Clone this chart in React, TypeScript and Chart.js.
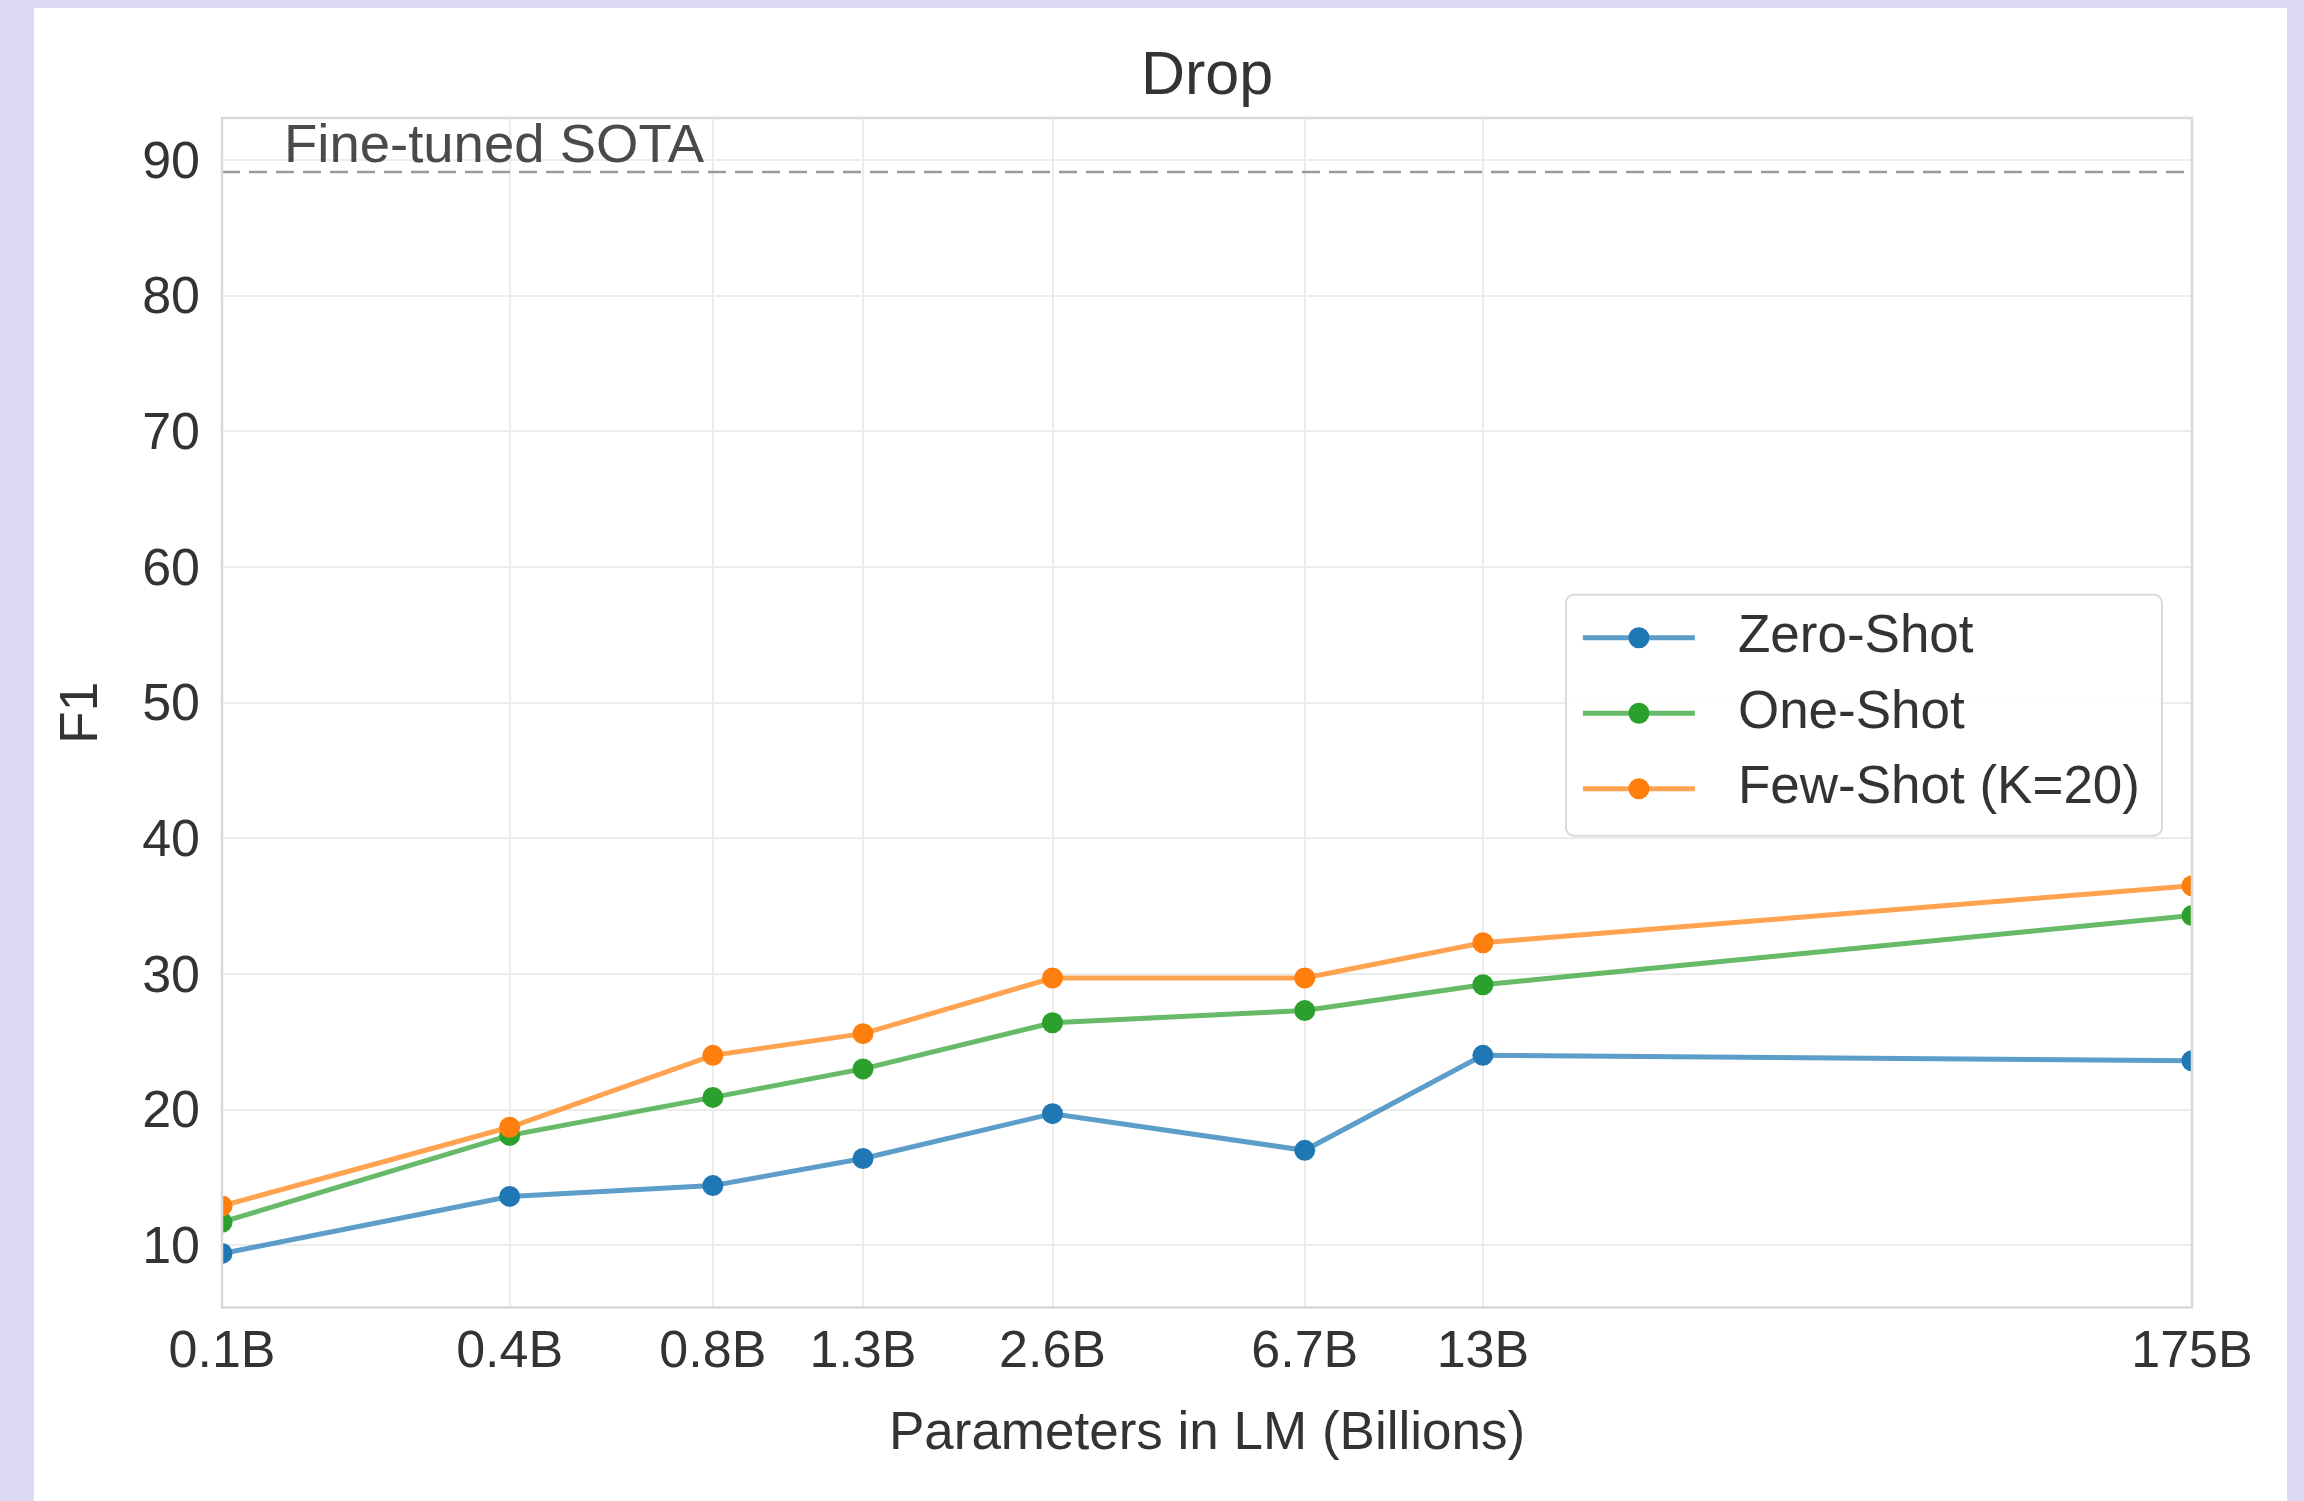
import React, { useEffect, useRef } from 'react';
import { Chart, registerables } from 'chart.js';

Chart.register(...registerables);

// ---------- data ----------
const TITLE = 'Drop';
const X_TITLE = 'Parameters in LM (Billions)';
const Y_TITLE = 'F1';
const MODEL_SIZES = [0.125, 0.36, 0.76, 1.32, 2.65, 6.7, 12.9, 175];
const X_TICK_LABELS = ['0.1B', '0.4B', '0.8B', '1.3B', '2.6B', '6.7B', '13B', '175B'];
const Y_TICKS = [10, 20, 30, 40, 50, 60, 70, 80, 90];
const ZERO_SHOT = [9.4, 13.6, 14.4, 16.4, 19.7, 17.0, 24.0, 23.6];
const ONE_SHOT = [11.7, 18.1, 20.9, 23.0, 26.4, 27.3, 29.2, 34.3];
const FEW_SHOT = [12.9, 18.7, 24.0, 25.6, 29.7, 29.7, 32.3, 36.5];
const SERIES_NAMES = ['Zero-Shot', 'One-Shot', 'Few-Shot (K=20)'];
const SOTA = 89.1;
const SOTA_LABEL = 'Fine-tuned SOTA';
const SOTA_LABEL_X = 0.157;
const Y_MIN = 5.415;
const Y_MAX = 93.085;

// ---------- style ----------
const FONT = "'Liberation Sans', Arial, Helvetica, sans-serif";
const TEXT = '#333333';
const BG = '#dcdaf2';
const GRID = '#ececec';
const FRAME = '#d9d9d9';
const COLORS = ['#1f77b4', '#2ca02c', '#ff7f0e'];
const LINE_COLORS = ['rgba(31,119,180,0.72)', 'rgba(44,160,44,0.72)', 'rgba(255,127,14,0.72)'];
const W = 2253;
const H = 1493;

const pts = (ys: number[]) => MODEL_SIZES.map((x, i) => ({ x, y: ys[i] }));

const decorPlugin = {
  id: 'decor',
  afterDatasetsDraw(chart: any) {
    const { ctx, chartArea: a, scales } = chart;
    ctx.save();
    // frame
    ctx.strokeStyle = FRAME;
    ctx.lineWidth = 2.5;
    ctx.strokeRect(a.left, a.top, a.right - a.left, a.bottom - a.top);

    // SOTA label
    ctx.fillStyle = '#4a4a4a';
    ctx.font = `54.5px ${FONT}`;
    ctx.textAlign = 'left';
    ctx.textBaseline = 'alphabetic';
    ctx.fillText(SOTA_LABEL, scales.x.getPixelForValue(SOTA_LABEL_X), scales.y.getPixelForValue(SOTA) - 10);

    // legend (center right)
    ctx.font = `53px ${FONT}`;
    let maxW = 0;
    SERIES_NAMES.forEach((n) => { maxW = Math.max(maxW, ctx.measureText(n).width); });
    const boxW = 172 + maxW + 22;
    const boxH = 241;
    const boxRight = a.right - 30;
    const boxLeft = boxRight - boxW;
    const midY = (a.top + a.bottom) / 2;
    const boxTop = midY - 118;
    ctx.beginPath();
    if (ctx.roundRect) ctx.roundRect(boxLeft, boxTop, boxW, boxH, 8);
    else ctx.rect(boxLeft, boxTop, boxW, boxH);
    ctx.fillStyle = 'rgba(255,255,255,0.9)';
    ctx.fill();
    ctx.strokeStyle = '#d9d9d9';
    ctx.lineWidth = 2;
    ctx.stroke();

    const rows = [43, 118.5, 194];
    chart.data.datasets.slice(0, 3).forEach((ds: any, i: number) => {
      const y = boxTop + rows[i];
      ctx.strokeStyle = ds.borderColor;
      ctx.lineWidth = 5;
      ctx.beginPath();
      ctx.moveTo(boxLeft + 17, y);
      ctx.lineTo(boxLeft + 129, y);
      ctx.stroke();
      ctx.fillStyle = ds.pointBackgroundColor;
      ctx.beginPath();
      ctx.arc(boxLeft + 73, y, 10.5, 0, Math.PI * 2);
      ctx.fill();
      ctx.fillStyle = TEXT;
      ctx.textBaseline = 'middle';
      ctx.textAlign = 'left';
      ctx.fillText(ds.label, boxLeft + 172, y);
    });
    ctx.restore();
  },
};

export default function App() {
  const ref = useRef<HTMLCanvasElement>(null);
  useEffect(() => {
    const series = [ZERO_SHOT, ONE_SHOT, FEW_SHOT];
    const datasets: any[] = series.map((s, i) => ({
      label: SERIES_NAMES[i],
      data: pts(s),
      borderColor: LINE_COLORS[i],
      backgroundColor: COLORS[i],
      pointBackgroundColor: COLORS[i],
      pointBorderWidth: 0,
      pointRadius: 10.5,
      borderWidth: 5,
      tension: 0,
      clip: 0,
      order: 3 - i,
    }));
    datasets.push({
      label: 'SOTA',
      data: [
        { x: MODEL_SIZES[0], y: SOTA },
        { x: MODEL_SIZES[MODEL_SIZES.length - 1], y: SOTA },
      ],
      borderColor: '#9a9a9a',
      borderWidth: 2.5,
      borderDash: [18, 9],
      pointRadius: 0,
      clip: 0,
      order: 4,
    });

    const chart = new Chart(ref.current as HTMLCanvasElement, {
      type: 'line',
      data: { datasets },
      options: {
        responsive: false,
        maintainAspectRatio: false,
        devicePixelRatio: 1,
        animation: false,
        events: [],
        layout: { padding: { left: 0, top: 0, right: 95, bottom: 0 } },
        plugins: {
          legend: { display: false },
          tooltip: { enabled: false },
          title: {
            display: true,
            text: TITLE,
            color: TEXT,
            fullSize: false,
            font: { family: FONT, size: 61, weight: 'normal' },
            padding: { top: 32.4, bottom: 4.4 },
          },
        },
        scales: {
          x: {
            type: 'logarithmic',
            min: MODEL_SIZES[0],
            max: MODEL_SIZES[MODEL_SIZES.length - 1],
            afterBuildTicks: (axis: any) => {
              axis.ticks = MODEL_SIZES.map((v) => ({ value: v }));
            },
            afterFit: (axis: any) => {
              axis.height = 193.5;
            },
            ticks: {
              autoSkip: false,
              maxRotation: 0,
              minRotation: 0,
              padding: 13.5,
              color: TEXT,
              font: { family: FONT, size: 52 },
              callback: (_v: any, i: number) => X_TICK_LABELS[i],
            },
            grid: { color: GRID, lineWidth: 2, drawTicks: false },
            border: { display: false },
            title: {
              display: true,
              text: X_TITLE,
              color: TEXT,
              font: { family: FONT, size: 53 },
              padding: { top: 0, bottom: 35 },
            },
          },
          y: {
            type: 'linear',
            min: Y_MIN,
            max: Y_MAX,
            afterBuildTicks: (axis: any) => {
              axis.ticks = Y_TICKS.map((v) => ({ value: v }));
            },
            afterFit: (axis: any) => {
              axis.width = 188;
            },
            ticks: {
              padding: 22,
              labelOffset: 3.5,
              color: TEXT,
              font: { family: FONT, size: 52 },
              callback: (v: any) => String(v),
            },
            grid: { color: GRID, lineWidth: 2, drawTicks: false },
            border: { display: false },
            title: {
              display: true,
              text: Y_TITLE,
              color: TEXT,
              font: { family: FONT, size: 53 },
              padding: { top: 16.5, bottom: 0 },
            },
          },
        },
      } as any,
      plugins: [decorPlugin],
    });
    return () => chart.destroy();
  }, []);

  return (
    <div style={{ position: 'fixed', inset: 0, background: BG }}>
      <div style={{ position: 'absolute', left: 34, top: 8, width: W, height: H, background: '#ffffff' }}>
        <canvas ref={ref} width={W} height={H} style={{ display: 'block', width: W, height: H }} />
      </div>
    </div>
  );
}
